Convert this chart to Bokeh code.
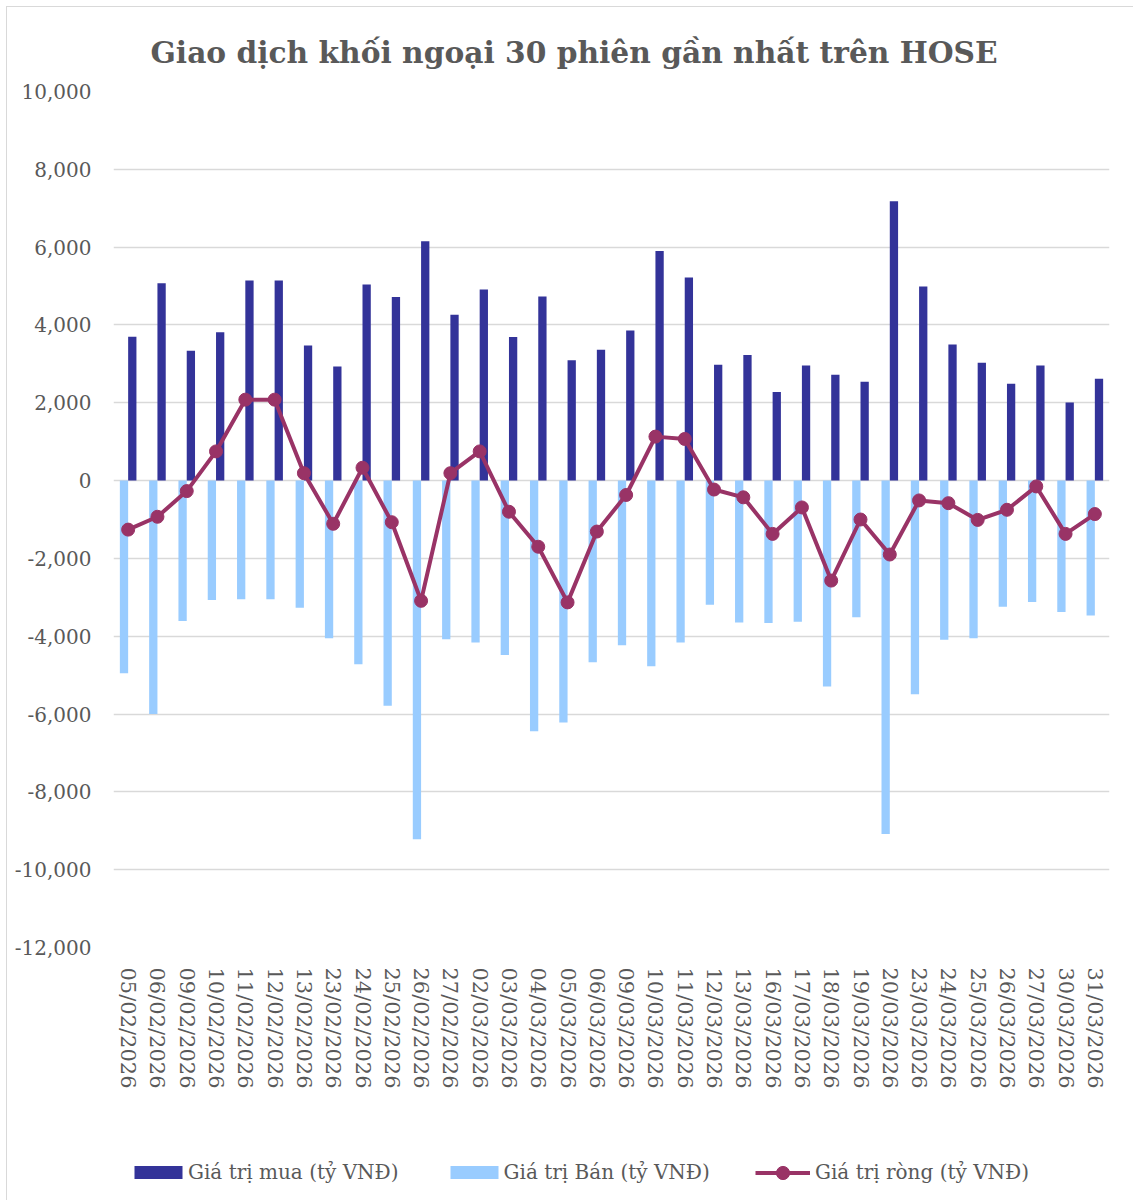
from bokeh.plotting import figure
from bokeh.layouts import column
from bokeh.models import (FactorRange, Range1d, NumeralTickFormatter, FixedTicker,
                          Legend, LegendItem, ColumnDataSource)
from bokeh.transform import dodge
from bokeh.embed import file_html
from bokeh.resources import INLINE

title_text = "Giao dịch khối ngoại 30 phiên gần nhất trên HOSE"

dates = ["05/02/2026", "06/02/2026", "09/02/2026", "10/02/2026", "11/02/2026",
         "12/02/2026", "13/02/2026", "23/02/2026", "24/02/2026", "25/02/2026",
         "26/02/2026", "27/02/2026", "02/03/2026", "03/03/2026", "04/03/2026",
         "05/03/2026", "06/03/2026", "09/03/2026", "10/03/2026", "11/03/2026",
         "12/03/2026", "13/03/2026", "16/03/2026", "17/03/2026", "18/03/2026",
         "19/03/2026", "20/03/2026", "23/03/2026", "24/03/2026", "25/03/2026",
         "26/03/2026", "27/03/2026", "30/03/2026", "31/03/2026"]

buy = [3700, 5070, 3340, 3810, 5140, 5140, 3470, 2930, 5040, 4720,
       6150, 4260, 4910, 3690, 4730, 3090, 3360, 3860, 5900, 5220,
       2980, 3230, 2280, 2960, 2720, 2540, 7180, 4990, 3500, 3030,
       2490, 2960, 2010, 2620]

sell = [-4950, -6000, -3610, -3070, -3050, -3050, -3270, -4050, -4720, -5790,
        -9220, -4080, -4160, -4480, -6440, -6220, -4670, -4230, -4770, -4160,
        -3190, -3650, -3660, -3630, -5290, -3510, -9080, -5490, -4090, -4050,
        -3240, -3120, -3380, -3470]

net = [-1260, -930, -270, 750, 2080, 2080, 190, -1110, 330, -1070,
       -3090, 190, 750, -800, -1700, -3130, -1310, -370, 1130, 1070,
       -230, -430, -1370, -690, -2570, -1000, -1900, -510, -580, -1010,
       -750, -150, -1370, -860]

series_names = ["Giá trị mua (tỷ VNĐ)", "Giá trị Bán (tỷ VNĐ)", "Giá trị ròng (tỷ VNĐ)"]
y_ticks = list(range(-12000, 10001, 2000))

BUY_C, SELL_C, NET_C = "#333399", "#99CCFF", "#993366"
TEXT = "#595959"
FONT = "DejaVu Serif"
W, H, HL = 1133, 1148, 52
GRID = "#d9d9d9"

src = ColumnDataSource(dict(date=dates, buy=buy, sell=sell, net=net))

p = figure(x_range=FactorRange(*dates), y_range=Range1d(-12000, 10000),
           width=W, height=H, output_backend="svg", toolbar_location=None,
           min_border_left=113, min_border_right=W - 1109, min_border_top=91,
           min_border_bottom=H - 947)
p.border_fill_color = None
p.styles = {"background": f"linear-gradient({GRID},{GRID}) 6px 6px / 1px 100% no-repeat, "
                          f"linear-gradient({GRID},{GRID}) 6px 6px / 100% 1px no-repeat, white"}

p.title.text = title_text
p.title.text_font = FONT
p.title.text_font_style = "bold"
p.title.text_font_size = "29.7px"
p.title.text_color = TEXT
p.title.align = "left"
p.title.offset = 37
p.title.standoff = 44

p.vbar(x=dodge("date", 0.1415, range=p.x_range), top="buy", bottom=0, width=0.283,
       source=src, fill_color=BUY_C, line_color=None)
p.vbar(x=dodge("date", -0.1415, range=p.x_range), top="sell", bottom=0, width=0.283,
       source=src, fill_color=SELL_C, line_color=None)
p.line("date", "net", source=src, line_width=4, line_color=NET_C)
p.scatter("date", "net", source=src, size=13, fill_color=NET_C, line_color=NET_C)

p.yaxis.ticker = FixedTicker(ticks=y_ticks)
p.yaxis.formatter = NumeralTickFormatter(format="0,0")
for ax in (p.xaxis, p.yaxis):
    ax.axis_line_color = None
    ax.major_tick_line_color = None
    ax.minor_tick_line_color = None
    ax.major_label_text_font = FONT
    ax.major_label_text_color = TEXT
p.yaxis.major_label_text_font_size = "20px"
p.yaxis.major_label_standoff = 16
p.xaxis.major_label_text_font_size = "21px"
p.xaxis.major_label_orientation = "vertical"
p.xaxis.major_label_standoff = 14

p.xgrid.grid_line_color = None
p.ygrid.grid_line_color = GRID
p.ygrid.grid_line_width = 1.5
p.outline_line_color = None

# legend strip below the chart (its frame is aligned with the main frame by the column)
lg = figure(width=W, height=HL, output_backend="svg", toolbar_location=None,
            x_range=Range1d(0, 1), y_range=Range1d(0, 1), min_border=0,
            x_axis_type=None, y_axis_type=None)
lg.grid.visible = False
lg.outline_line_color = None
lg.border_fill_color = None
lg.background_fill_color = None
lg.styles = {"background": f"linear-gradient({GRID},{GRID}) 6px 0 / 1px 100% no-repeat, white"}
# legend-only renderers, placed outside the visible range
dummy = ColumnDataSource(dict(x=[-10, -9], y=[-10, -9]))
lb = lg.vbar(x="x", top="y", width=0.1, source=dummy, fill_color=BUY_C, line_color=None)
ls = lg.vbar(x="x", top="y", width=0.1, source=dummy, fill_color=SELL_C, line_color=None)
ll = lg.line("x", "y", source=dummy, line_width=4, line_color=NET_C)
lm = lg.scatter("x", "y", source=dummy, size=13, fill_color=NET_C, line_color=NET_C)

common = dict(orientation="horizontal", padding=0, margin=0, border_line_color=None,
              background_fill_alpha=0, label_text_font=FONT, label_text_font_size="20px",
              label_text_color=TEXT)
legend1 = Legend(items=[LegendItem(label=series_names[0], renderers=[lb]),
                        LegendItem(label=series_names[1], renderers=[ls])],
                 location=(15, 16), glyph_width=60, glyph_height=16, label_standoff=0,
                 spacing=45, **common)
legend2 = Legend(items=[LegendItem(label=series_names[2], renderers=[ll, lm])],
                 location=(642, 11.5), glyph_width=55, glyph_height=33, label_standoff=5,
                 **common)
lg.add_layout(legend1, "center")
lg.add_layout(legend2, "center")

layout = column(p, lg, spacing=0)
open("out.html", "w").write(file_html(layout, INLINE))
